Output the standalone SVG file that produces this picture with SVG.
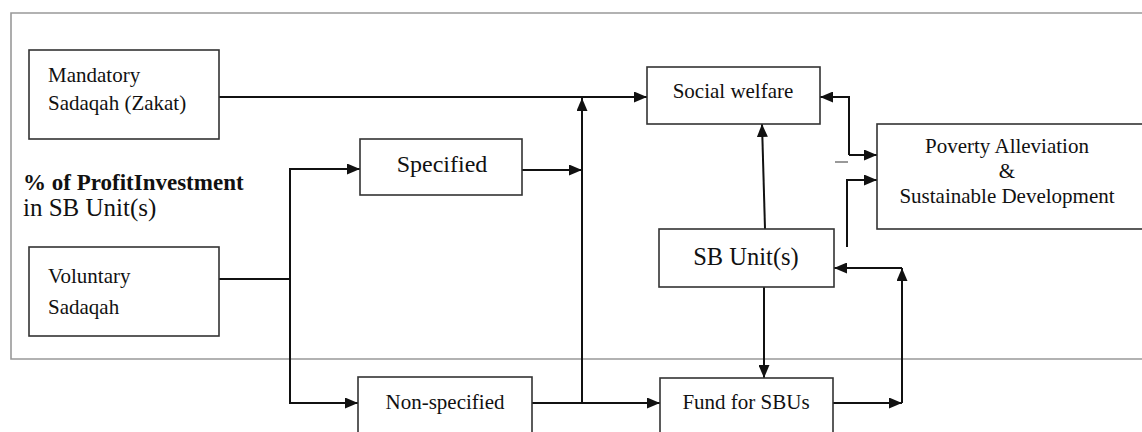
<svg xmlns="http://www.w3.org/2000/svg" width="1142" height="432" viewBox="0 0 1142 432">
<style>
.box{fill:#fff;stroke:#333;stroke-width:1.6}
.frame{fill:none;stroke:#999;stroke-width:1.6}
.c{fill:none;stroke:#111;stroke-width:2}
.t{font-family:"Liberation Serif","Times New Roman",serif;font-size:21px;fill:#111}
.m{text-anchor:middle}
</style>
<defs>
<marker id="ah" markerUnits="userSpaceOnUse" viewBox="0 0 13 11" markerWidth="13" markerHeight="11" refX="13" refY="5.5" orient="auto">
<path d="M0,0 L13,5.5 L0,11 z" fill="#111"/>
</marker>
</defs>
<rect width="1142" height="432" fill="#fff"/>
<g id="frame">
<path class="frame" d="M1142,13 H11 V359 H1142"/>
</g>
<g id="connectors">
<path class="c" d="M219,97 H647" marker-end="url(#ah)"/>
<path class="c" d="M522,170 H582" marker-end="url(#ah)"/>
<path class="c" d="M582,403 V98" marker-end="url(#ah)"/>
<path class="c" d="M219,279 H290"/>
<path class="c" d="M290,279 V169 H360" marker-end="url(#ah)"/>
<path class="c" d="M290,279 V403 H358" marker-end="url(#ah)"/>
<path class="c" d="M532,403 H660" marker-end="url(#ah)"/>
<path class="c" d="M833,403 H902" marker-end="url(#ah)"/>
<path class="c" d="M902,403 V268" marker-end="url(#ah)"/>
<path class="c" d="M902,268 H834" marker-end="url(#ah)"/>
<path class="c" d="M765,229 L762,124" marker-end="url(#ah)"/>
<path class="c" d="M764,287 V378" marker-end="url(#ah)"/>
<path class="c" d="M849,155 V97 H820" marker-end="url(#ah)"/>
<path class="c" d="M849,155 H877" marker-end="url(#ah)"/>
<path class="c" d="M847,247 V180 H877" marker-end="url(#ah)"/>
<path d="M835,162 H848" stroke="#777" stroke-width="1.5"/>
</g>
<g id="mandatory">
<rect class="box" x="29" y="50" width="190" height="89"/>
<text class="t" x="48" y="82">Mandatory</text>
<text class="t" x="48" y="110">Sadaqah (Zakat)</text>
</g>
<g id="profit-label">
<text class="t" x="23" y="190" style="font-weight:bold;font-size:23px">% of ProfitInvestment</text>
<text class="t" x="23" y="216" style="font-size:25px">in SB Unit(s)</text>
</g>
<g id="voluntary">
<rect class="box" x="29" y="247" width="190" height="89"/>
<text class="t" x="48" y="283">Voluntary</text>
<text class="t" x="48" y="314">Sadaqah</text>
</g>
<g id="specified">
<rect class="box" x="360" y="139" width="162" height="56"/>
<text class="t m" x="442" y="172" style="font-size:24px">Specified</text>
</g>
<g id="non-specified">
<rect class="box" x="358" y="377" width="174" height="70"/>
<text class="t m" x="445" y="409">Non-specified</text>
</g>
<g id="social-welfare">
<rect class="box" x="647" y="67" width="173" height="57"/>
<text class="t m" x="733" y="98">Social welfare</text>
</g>
<g id="sb-units">
<rect class="box" x="659" y="229" width="175" height="58"/>
<text class="t m" x="746" y="265" style="font-size:24.5px">SB Unit(s)</text>
</g>
<g id="fund">
<rect class="box" x="660" y="378" width="173" height="70"/>
<text class="t m" x="746" y="409">Fund for SBUs</text>
</g>
<g id="poverty">
<rect class="box" x="877" y="124" width="280" height="105"/>
<text class="t m" x="1007" y="153">Poverty Alleviation</text>
<text class="t m" x="1007" y="178">&amp;</text>
<text class="t m" x="1007" y="203">Sustainable Development</text>
</g>
</svg>
